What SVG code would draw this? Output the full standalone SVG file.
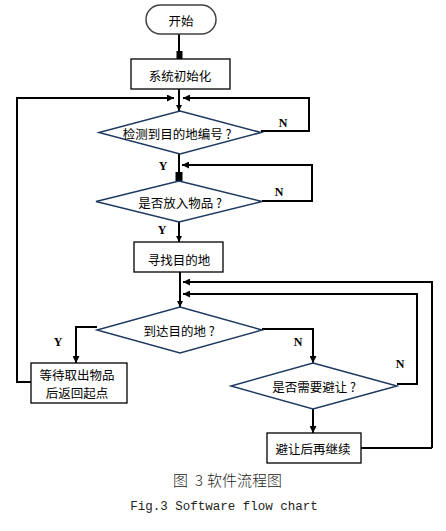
<svg xmlns="http://www.w3.org/2000/svg" width="446" height="531" viewBox="0 0 446 531">
<defs>
<marker id="ah" viewBox="0 0 10 10" refX="10" refY="5" markerWidth="7" markerHeight="7" markerUnits="userSpaceOnUse" orient="auto"><path d="M0,0 L10,5 L0,10 z" fill="#000"/></marker>
<marker id="ah2" viewBox="0 0 10 10" refX="10" refY="5" markerWidth="6" markerHeight="6" markerUnits="userSpaceOnUse" orient="auto"><path d="M0,0 L10,5 L0,10 z" fill="#000"/></marker>
</defs>
<style>
.box{fill:#fff;stroke:#000;stroke-width:1.3}
.dia{fill:#fff;stroke:#1f3a60;stroke-width:1.5}
.t{font-family:"Noto Sans CJK SC","Noto Sans",sans-serif;font-size:12.5px;fill:#000;text-anchor:middle;dominant-baseline:central}
.lab{font-family:"Liberation Serif",serif;font-weight:bold;font-size:12px;fill:#000;text-anchor:middle;dominant-baseline:central}
.c{fill:none;stroke:#000;stroke-width:2}
.cap{font-family:"Noto Sans CJK SC",sans-serif;font-size:15px;font-weight:300;fill:#222;dominant-baseline:central}
.fig{font-family:"Liberation Mono",monospace;font-size:12.5px;fill:#222;text-anchor:middle;dominant-baseline:central}
</style>
<g id="connectors">
<line class="c" x1="179" y1="34" x2="179" y2="59"/>
<rect x="176.5" y="51" width="6" height="8" fill="#000"/>
<line class="c" x1="179" y1="89" x2="179" y2="111" stroke-width="1.5" marker-end="url(#ah2)"/>
<polyline class="c" points="31,382 17,382 17,98 174,98" marker-end="url(#ah)"/>
<polyline class="c" points="261,131 309,131 309,98 183,98" marker-end="url(#ah)"/>
<line class="c" x1="179" y1="154" x2="179" y2="181" stroke-width="2.5"/>
<rect x="175.5" y="172" width="7" height="9" fill="#000"/>
<polyline class="c" points="262,201 312,201 312,165 182,165" marker-end="url(#ah)"/>
<line class="c" x1="179" y1="222" x2="179" y2="242" stroke-width="1.5" marker-end="url(#ah2)"/>
<line class="c" x1="180" y1="272" x2="180" y2="307" marker-end="url(#ah2)"/>
<polyline class="c" points="432,448 432,282 183,282" stroke-width="1.5" marker-end="url(#ah)"/>
<polyline class="c" points="361,448 432,448" stroke-width="3"/>
<polyline class="c" points="397,384 417,384 417,294 183,294" stroke-width="3" marker-end="url(#ah)"/>
<polyline class="c" points="97,327 76,327 76,363" marker-end="url(#ah)"/>
<polyline class="c" points="262,329 313,329 313,363" stroke-width="2.5" marker-end="url(#ah)"/>
<line class="c" x1="313" y1="409" x2="313" y2="433" marker-end="url(#ah)"/>
<text class="lab" x="283" y="123">N</text>
<text class="lab" x="163" y="166">Y</text>
<text class="lab" x="279" y="192">N</text>
<text class="lab" x="162" y="230">Y</text>
<text class="lab" x="58" y="342">Y</text>
<text class="lab" x="298" y="342">N</text>
<text class="lab" x="400" y="364">N</text>
</g>
<g id="start">
<rect x="146" y="5" width="70" height="29" rx="14.5" fill="#fff" stroke="#404040" stroke-width="1.5"/>
<text class="t" x="181" y="20">开始</text>
</g>
<g id="init">
<rect class="box" x="131" y="59" width="99" height="30"/>
<text class="t" x="180" y="75">系统初始化</text>
</g>
<g id="detect">
<polygon class="dia" points="180,111 261,132.5 180,154 99,132.5"/>
<text class="t" x="177" y="133" xml:space="preserve">检测到目的地编号 ?</text>
</g>
<g id="placed">
<polygon class="dia" points="179,181 262,201.5 179,222 96,201.5"/>
<text class="t" x="180" y="202" xml:space="preserve">是否放入物品 ?</text>
</g>
<g id="find">
<rect class="box" x="134" y="242" width="89" height="30" stroke-width="1.8" stroke="#333"/>
<text class="t" x="179" y="259">寻找目的地</text>
</g>
<g id="arrive">
<polygon class="dia" points="180,307 262,330 180,353 97,330"/>
<text class="t" x="179" y="330" xml:space="preserve">到达目的地 ?</text>
</g>
<g id="wait">
<rect class="box" x="31" y="363" width="96" height="40"/>
<text class="t" x="77" y="374">等待取出物品</text>
<text class="t" x="77" y="392">后返回起点</text>
</g>
<g id="avoid">
<polygon class="dia" points="313,363 397,386 313,409 231,386"/>
<text class="t" x="314" y="386" xml:space="preserve">是否需要避让 ?</text>
</g>
<g id="continue">
<rect class="box" x="267" y="433" width="94" height="30"/>
<text class="t" x="313" y="448">避让后再继续</text>
</g>
<text class="cap" y="479"><tspan x="173">图</tspan><tspan x="195">3</tspan><tspan x="207">软件流程图</tspan></text>
<text class="fig" x="224" y="507">Fig.3 Software flow chart</text>
</svg>
